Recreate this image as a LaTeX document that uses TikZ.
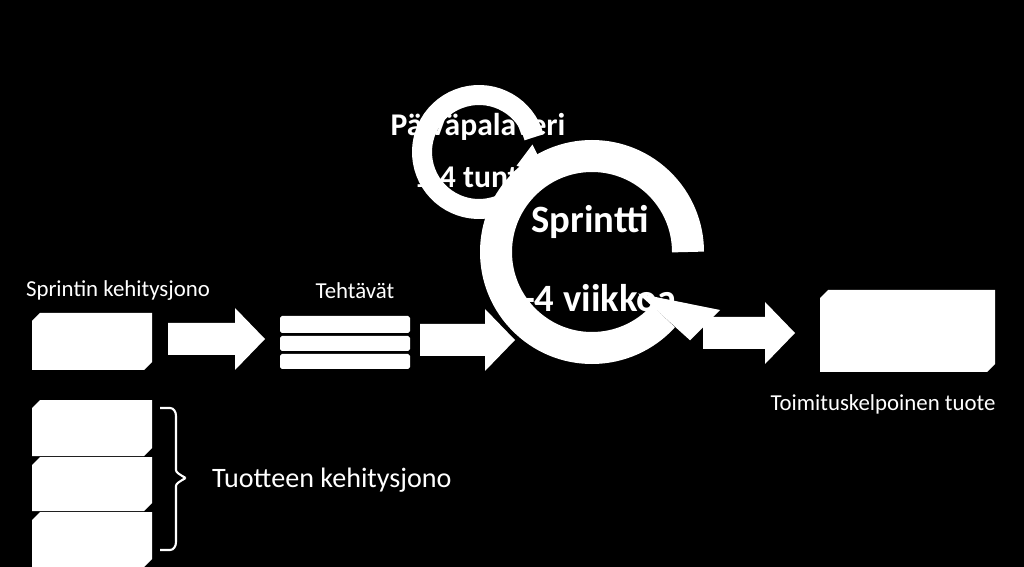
\documentclass[tikz,border=0pt]{standalone}
\usepackage{fontspec}
\setmainfont{Carlito}
\begin{document}
\begin{tikzpicture}[x=0.02cm,y=-0.02cm,
  lbl/.style={text=white,font=\fontsize{13}{15}\selectfont},
  cyc/.style={text=white,font=\bfseries\fontsize{22}{26}\selectfont},
  card/.style={fill=white}]

  \fill[black] (0,0) rectangle (1024,567);
  \useasboundingbox (0,0) rectangle (1024,567);

  % kortit
  \newcommand{\kortti}[4]{\fill[card] (#1+8,#2) -- (#3,#2) -- (#3,#4-8) -- (#3-8,#4) -- (#1,#4) -- (#1,#2+8) -- cycle;}
  \kortti{32}{313}{152}{370}
  \kortti{32}{400}{152}{456}
  \kortti{32}{457}{152}{511}
  \kortti{32}{512}{152}{567}
  \kortti{820}{290}{995}{372}

  % nuolet
  \newcommand{\nuoli}[3]{\fill[white] (#1,#2-16) -- (#3-30,#2-16) -- (#3-30,#2-31) -- (#3,#2) -- (#3-30,#2+31) -- (#3-30,#2+16) -- (#1,#2+16) -- cycle;}
  \nuoli{168}{339}{265}
  \nuoli{420}{340}{515}
  \nuoli{703}{333}{795}

  % tehtavat
  \foreach \y/\h in {316/333,336/351,354/369}
    \fill[white,rounded corners=1pt] (280,\y) rectangle (410,\h);

  \node[lbl] (sk) at (118,291) {Sprintin kehitysjono};
  \node[lbl] (te) at (355,291) {Tehtävät};
  \node[lbl] (tt) at (883,404) {Toimituskelpoinen tuote};

  % paivapalaveri
  \node[cyc,font=\bfseries\fontsize{18}{22}\selectfont] (pp) at (478,127) {Päiväpalaveri};
  \node[cyc,font=\bfseries\fontsize{18}{22}\selectfont] (tu) at (478,176) {1-4 tuntia};
  \begin{scope}[shift={(479,152)},yscale=-1]
    \draw[white,line width=0.4cm] (15:57) arc[start angle=15,end angle=340,radius=57];
    \fill[white] (340:40) -- (340:74) -- (8:54) -- cycle;
  \end{scope}

  % sprintti
  \node[cyc] (sp) at (590,222) {Sprintti};
  \node[cyc] (vk) at (590,298) {1-4 viikkoa};
  \begin{scope}[shift={(592,252)},yscale=-1]
    \draw[white,line width=0.64cm] (0:96) arc[start angle=0,end angle=318,radius=96];
    \fill[white] (318:62) -- (318:132) -- (128,-58) -- cycle;
  \end{scope}

  % tuotteen kehitysjono
  \draw[white,line width=1.2pt] (160,408) -- (170,408) to[out=0,in=90] (176,416) -- (176,470)
    to[out=-90,in=0] (184,478) to[out=0,in=90] (176,486) -- (176,542) to[out=-90,in=0] (170,550) -- (160,550);
  \node[lbl,anchor=west,font=\fontsize{16}{19}\selectfont] (tk) at (206,480) {Tuotteen kehitysjono};
\end{tikzpicture}
\end{document}
